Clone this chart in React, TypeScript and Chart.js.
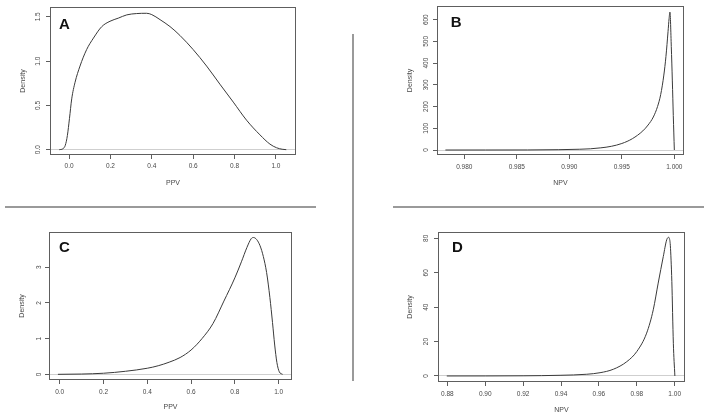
import React, { useEffect, useRef } from "react";
import { Chart, registerables } from "chart.js";

Chart.register(...registerables);

// ---------------- Data ----------------
// Panel A: PPV density
const ppvA_x = [-0.047, -0.03, -0.018, -0.008, 0.002, 0.013, 0.029, 0.053, 0.085, 0.118, 0.158, 0.198, 0.238, 0.279, 0.327, 0.375, 0.4, 0.44, 0.488, 0.536, 0.6, 0.665, 0.729, 0.794, 0.858, 0.923, 0.971, 1.003, 1.03, 1.05];
const ppvA_density = [0.0, 0.01, 0.05, 0.16, 0.35, 0.574, 0.76, 0.944, 1.13, 1.26, 1.389, 1.45, 1.485, 1.522, 1.537, 1.54, 1.525, 1.468, 1.39, 1.29, 1.13, 0.944, 0.74, 0.537, 0.333, 0.167, 0.063, 0.022, 0.005, 0.0];
const ppvA_xTicks = [0, 0.2, 0.4, 0.6, 0.8, 1.0];
const ppvA_xTickLabels = ["0.0", "0.2", "0.4", "0.6", "0.8", "1.0"];
const ppvA_yTicks = [0, 0.5, 1.0, 1.5];
const ppvA_yTickLabels = ["0.0", "0.5", "1.0", "1.5"];
const ppvA_xRange = [-0.092, 1.097];
const ppvA_yRange = [-0.06, 1.61];

// Panel B: NPV density
const npvB_x = [0.9782, 0.982, 0.986, 0.989, 0.991, 0.992, 0.993, 0.994, 0.995, 0.996, 0.997, 0.9975, 0.998, 0.9984, 0.9987, 0.999, 0.9992, 0.9994, 0.9995, 0.99958, 0.99971, 0.99981, 0.9999, 1.0];
const npvB_density = [0, 0.05, 0.3, 1.5, 3.5, 5.5, 10, 17, 30, 52, 88, 115, 152, 200, 255, 345, 430, 545, 605, 635, 476, 318, 159, 0];
const npvB_xTicks = [0.98, 0.985, 0.99, 0.995, 1.0];
const npvB_xTickLabels = ["0.980", "0.985", "0.990", "0.995", "1.000"];
const npvB_yTicks = [0, 100, 200, 300, 400, 500, 600];
const npvB_yTickLabels = ["0", "100", "200", "300", "400", "500", "600"];
const npvB_xRange = [0.9774, 1.00092];
const npvB_yRange = [-23, 663];

// Panel C: PPV density
const ppvC_x = [-0.008, 0.1, 0.2, 0.3, 0.4, 0.45, 0.5, 0.55, 0.6, 0.65, 0.7, 0.75, 0.8, 0.83, 0.855, 0.875, 0.885, 0.9, 0.915, 0.93, 0.945, 0.96, 0.972, 0.982, 0.992, 1.003, 1.018];
const ppvC_density = [0, 0.008, 0.03, 0.085, 0.17, 0.24, 0.34, 0.47, 0.68, 1.0, 1.42, 2.05, 2.7, 3.15, 3.55, 3.8, 3.83, 3.77, 3.6, 3.3, 2.85, 2.15, 1.45, 0.82, 0.33, 0.07, 0];
const ppvC_xTicks = [0, 0.2, 0.4, 0.6, 0.8, 1.0];
const ppvC_xTickLabels = ["0.0", "0.2", "0.4", "0.6", "0.8", "1.0"];
const ppvC_yTicks = [0, 1, 2, 3];
const ppvC_yTickLabels = ["0", "1", "2", "3"];
const ppvC_xRange = [-0.0488, 1.061];
const ppvC_yRange = [-0.159, 3.984];

// Panel D: NPV density
const npvD_x = [0.8797, 0.9, 0.92, 0.9395, 0.9536, 0.9606, 0.9676, 0.9747, 0.98, 0.9852, 0.9887, 0.9913, 0.994, 0.9958, 0.9968, 0.9972, 0.9977, 0.9985, 0.9993, 1.0001];
const npvD_density = [0, 0.02, 0.1, 0.4, 1.0, 1.9, 3.9, 8.3, 14.2, 24.9, 38.5, 54, 69.5, 79.2, 80.6, 80, 76, 55, 19, 0];
const npvD_xTicks = [0.88, 0.9, 0.92, 0.94, 0.96, 0.98, 1.0];
const npvD_xTickLabels = ["0.88", "0.90", "0.92", "0.94", "0.96", "0.98", "1.00"];
const npvD_yTicks = [0, 20, 40, 60, 80];
const npvD_yTickLabels = ["0", "20", "40", "60", "80"];
const npvD_xRange = [0.87507, 1.00545];
const npvD_yRange = [-3.5, 83.7];

// ---------------- Styles ----------------
const FONT = "'Liberation Sans', Arial, Helvetica, sans-serif";
const TICK_SIZE = 6.5;
const TITLE_SIZE = 7;
const LH = 1.2;
const TICK_LEN = 4;
const CURVE = "#3a3a3a";
const AXIS = "#5e5e5e";
const TEXT = "#484848";
const ZERO = "#cfcfcf";
const SEP = "#9a9a9a";

type Layout = {
  left: number; top: number; w: number; h: number;
  padTop: number; padRight: number; yAxisW: number; xAxisH: number;
  xLabelOff: number; yLabelOff: number; xTitleFromBottom: number; yTitleFromLeft: number;
  letterDx: number; letterDy: number;
};

type PanelDef = {
  letter: string; xTitle: string; yTitle: string;
  xs: number[]; ys: number[];
  xTicks: number[]; xTickLabels: string[];
  yTicks: number[]; yTickLabels: string[];
  xRange: number[]; yRange: number[];
  layout: Layout;
};

const panels: PanelDef[] = [
  {
    letter: "A", xTitle: "PPV", yTitle: "Density",
    xs: ppvA_x, ys: ppvA_density,
    xTicks: ppvA_xTicks, xTickLabels: ppvA_xTickLabels,
    yTicks: ppvA_yTicks, yTickLabels: ppvA_yTickLabels,
    xRange: ppvA_xRange, yRange: ppvA_yRange,
    layout: { left: 0, top: 0, w: 316, h: 200, padTop: 5, padRight: 20, yAxisW: 50, xAxisH: 45,
      xLabelOff: 11.7, yLabelOff: 11.7, xTitleFromBottom: 17.3, yTitleFromLeft: 22.7, letterDx: 9, letterDy: 22 },
  },
  {
    letter: "B", xTitle: "NPV", yTitle: "Density",
    xs: npvB_x, ys: npvB_density,
    xTicks: npvB_xTicks, xTickLabels: npvB_xTickLabels,
    yTicks: npvB_yTicks, yTickLabels: npvB_yTickLabels,
    xRange: npvB_xRange, yRange: npvB_yRange,
    layout: { left: 380, top: 0, w: 320, h: 200, padTop: 6, padRight: 16, yAxisW: 57, xAxisH: 45,
      xLabelOff: 12.7, yLabelOff: 10.3, xTitleFromBottom: 16.7, yTitleFromLeft: 30, letterDx: 13.7, letterDy: 20.7 },
  },
  {
    letter: "C", xTitle: "PPV", yTitle: "Density",
    xs: ppvC_x, ys: ppvC_density,
    xTicks: ppvC_xTicks, xTickLabels: ppvC_xTickLabels,
    yTicks: ppvC_yTicks, yTickLabels: ppvC_yTickLabels,
    xRange: ppvC_xRange, yRange: ppvC_yRange,
    layout: { left: 0, top: 215, w: 316, h: 203, padTop: 17, padRight: 24, yAxisW: 49, xAxisH: 38,
      xLabelOff: 12.7, yLabelOff: 10, xTitleFromBottom: 10.7, yTitleFromLeft: 22, letterDx: 10, letterDy: 20.3 },
  },
  {
    letter: "D", xTitle: "NPV", yTitle: "Density",
    xs: npvD_x, ys: npvD_density,
    xTicks: npvD_xTicks, xTickLabels: npvD_xTickLabels,
    yTicks: npvD_yTicks, yTickLabels: npvD_yTickLabels,
    xRange: npvD_xRange, yRange: npvD_yRange,
    layout: { left: 380, top: 215, w: 320, h: 203, padTop: 17, padRight: 15, yAxisW: 58, xAxisH: 36,
      xLabelOff: 12.3, yLabelOff: 11.3, xTitleFromBottom: 8, yTitleFromLeft: 30, letterDx: 14, letterDy: 20 },
  },
];

function textWidth(t: string, font: string): number {
  const c = document.createElement("canvas").getContext("2d");
  if (!c) return t.length * 4;
  c.font = font;
  return c.measureText(t).width;
}

const framePlugin = {
  id: "frame",
  afterDraw(chart: any, _args: any, opts: any) {
    const { ctx, chartArea: a } = chart;
    ctx.save();
    ctx.strokeStyle = AXIS;
    ctx.lineWidth = 1;
    const l = Math.round(a.left) + 0.5;
    const t = Math.round(a.top) + 0.5;
    const r = Math.round(a.right) - 0.5;
    const b = Math.round(a.bottom) - 0.5;
    ctx.strokeRect(l, t, r - l, b - t);
    ctx.font = `bold 15px ${FONT}`;
    ctx.fillStyle = "#111";
    ctx.textAlign = "left";
    ctx.textBaseline = "alphabetic";
    ctx.fillText(opts.letter, a.left + opts.dx, a.top + opts.dy);
    ctx.restore();
  },
};

function Panel({ def }: { def: PanelDef }) {
  const ref = useRef<HTMLCanvasElement>(null);
  const L = def.layout;
  useEffect(() => {
    const canvas = ref.current;
    if (!canvas) return;
    const tickFontStr = `${TICK_SIZE}px ${FONT}`;
    const widest = Math.max(...def.yTickLabels.map((t) => textWidth(t, tickFontStr)));
    const tickLH = TICK_SIZE * LH;
    const titleLH = TITLE_SIZE * LH;
    const chart = new Chart(canvas, {
      type: "line",
      data: {
        datasets: [
          {
            data: def.xs.map((x, i) => ({ x, y: def.ys[i] })),
            borderColor: CURVE,
            borderWidth: 1,
            pointRadius: 0,
            cubicInterpolationMode: "monotone",
            fill: false,
          },
        ],
      },
      options: {
        animation: false,
        responsive: false,
        maintainAspectRatio: false,
        devicePixelRatio: 1,
        events: [],
        layout: { padding: { top: L.padTop, right: L.padRight, left: 0, bottom: 0 } },
        plugins: {
          legend: { display: false },
          tooltip: { enabled: false },
          title: { display: false },
          frame: { letter: def.letter, dx: L.letterDx, dy: L.letterDy },
        } as any,
        scales: {
          x: {
            type: "linear",
            position: "bottom",
            min: def.xRange[0],
            max: def.xRange[1],
            bounds: "data",
            afterBuildTicks: (s: any) => {
              s.ticks = def.xTicks.map((v) => ({ value: v }));
            },
            afterFit: (s: any) => {
              s.height = L.xAxisH;
            },
            ticks: {
              autoSkip: false,
              maxRotation: 0,
              minRotation: 0,
              padding: L.xLabelOff - TICK_LEN - tickLH / 2,
              font: { family: FONT, size: TICK_SIZE, lineHeight: LH },
              color: TEXT,
              callback: (_v: any, i: number) => def.xTickLabels[i],
            },
            grid: {
              drawOnChartArea: false,
              drawTicks: true,
              tickLength: TICK_LEN,
              tickColor: AXIS,
              tickWidth: 1,
            },
            border: { display: false },
            title: {
              display: true,
              text: def.xTitle,
              color: TEXT,
              font: { family: FONT, size: TITLE_SIZE, lineHeight: LH },
              padding: { top: 0, bottom: L.xTitleFromBottom - titleLH / 2 },
            },
          },
          y: {
            type: "linear",
            position: "left",
            min: def.yRange[0],
            max: def.yRange[1],
            bounds: "data",
            afterBuildTicks: (s: any) => {
              s.ticks = def.yTicks.map((v) => ({ value: v }));
            },
            afterFit: (s: any) => {
              s.width = L.yAxisW;
            },
            ticks: {
              autoSkip: false,
              minRotation: 90,
              maxRotation: 90,
              crossAlign: "center",
              padding: L.yLabelOff - TICK_LEN - widest / 2,
              font: { family: FONT, size: TICK_SIZE, lineHeight: LH },
              color: TEXT,
              callback: (_v: any, i: number) => def.yTickLabels[i],
            },
            grid: {
              drawOnChartArea: true,
              drawTicks: true,
              tickLength: TICK_LEN,
              tickColor: AXIS,
              tickWidth: 1,
              lineWidth: 1,
              color: (ctx: any) => (ctx.tick && ctx.tick.value === 0 ? ZERO : "rgba(0,0,0,0)"),
            },
            border: { display: false },
            title: {
              display: true,
              text: def.yTitle,
              color: TEXT,
              font: { family: FONT, size: TITLE_SIZE, lineHeight: LH },
              padding: { top: L.yTitleFromLeft - titleLH / 2, bottom: 0 },
            },
          },
        },
      } as any,
      plugins: [framePlugin as any],
    });
    return () => chart.destroy();
  }, [def]);

  return (
    <canvas
      ref={ref}
      width={L.w}
      height={L.h}
      style={{ position: "absolute", left: L.left, top: L.top, width: L.w, height: L.h }}
    />
  );
}

export default function App() {
  return (
    <div style={{ position: "absolute", left: 0, top: 0, width: 708, height: 418, background: "#fff", overflow: "hidden" }}>
      {panels.map((p) => (
        <Panel key={p.letter} def={p} />
      ))}
      <div style={{ position: "absolute", left: 352, top: 34, width: 2, height: 347, background: SEP }} />
      <div style={{ position: "absolute", left: 5, top: 206, width: 311, height: 2, background: SEP }} />
      <div style={{ position: "absolute", left: 393, top: 206, width: 311, height: 2, background: SEP }} />
    </div>
  );
}
